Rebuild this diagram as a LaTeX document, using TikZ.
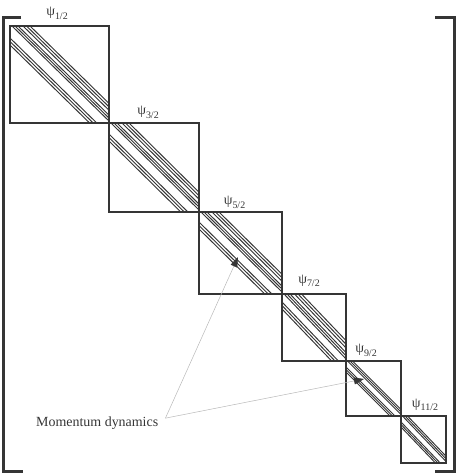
\documentclass[tikz,border=0pt]{standalone}
\usepackage{fontspec}
\setmainfont{Liberation Serif}
\usetikzlibrary{calc,arrows.meta}
\definecolor{ink}{HTML}{353535}
\definecolor{lead}{HTML}{B8B8B8}
\newcommand\mybands[4]{%
  \begin{scope}
    \clip (#1) rectangle (#2);
    \foreach \o in {#3} {\draw[band] ($(#1)+(\o,0)$) -- ($(#2)+(\o,0)$);}
    \foreach \o in {#4} {\draw[band] ($(#1)+(0,\o)$) -- ($(#2)+(0,\o)$);}
  \end{scope}}
\newcommand\psisub[1]{ψ\raisebox{-3.5bp}{\fontsize{10}{10}\selectfont #1}}
\begin{document}
\begin{tikzpicture}[x=1bp,y=-1bp,
  blk/.style={draw=ink,line width=1.6bp},
  brk/.style={draw=ink,line width=3bp,line join=miter,line cap=butt},
  band/.style={draw=ink,line width=0.95bp},
  lab/.style={text=ink,inner sep=0pt,font=\fontsize{14}{16}\selectfont},
  ldr/.style={draw=lead,line width=0.5bp,-{Triangle[length=10bp,width=7bp,color=ink,fill=ink]}}]
\useasboundingbox (0,0) rectangle (457,473);
% block corners
\coordinate (c0) at (10,26);
\coordinate (c1) at (109,123);
\coordinate (c2) at (199,212);
\coordinate (c3) at (282,294);
\coordinate (c4) at (346,361);
\coordinate (c5) at (401,416);
\coordinate (c6) at (446,463);
% bands
\mybands{c0}{c1}{2,5,8,13,16.5,20}{12,15.5,19}
\mybands{c1}{c2}{2,5,8,13,16.5,20}{11,14.5,18}
\mybands{c2}{c3}{2,5,8,13,16.5,20}{10,13.5,17}
\mybands{c3}{c4}{2,5,8,12.5,16,19.5}{8,11.5,15}
\mybands{c4}{c5}{1.5,4,6.5}{6,8.5,11}
\mybands{c5}{c6}{1.5,4,6.5}{6,8.5,11}
% blocks
\draw[blk] (c0) rectangle (c1);
\draw[blk] (c1) rectangle (c2);
\draw[blk] (c2) rectangle (c3);
\draw[blk] (c3) rectangle (c4);
\draw[blk] (c4) rectangle (c5);
\draw[blk] (c5) rectangle (c6);
% brackets
\draw[brk] (21,18) -- (3,18) -- (3,471) -- (23,471);
\draw[brk] (435,17.5) -- (454.5,17.5) -- (454.5,471) -- (435,471);
% labels
\node[lab] (p1) at (57,13.5) {\psisub{1/2}};
\node[lab] (p2) at (148,112.5) {\psisub{3/2}};
\node[lab] (p3) at (234.5,202.5) {\psisub{5/2}};
\node[lab] (p4) at (309,281) {\psisub{7/2}};
\node[lab] (p5) at (366,350.5) {\psisub{9/2}};
\node[lab] (p6) at (425,405) {\psisub{11/2}};
% momentum dynamics
\node[text=ink,font=\fontsize{14}{16}\selectfont,anchor=base west,inner sep=0pt] (mom) at (36,426) {Momentum dynamics};
\coordinate (ms) at ($(mom.east)+(7,-4.5)$);
\coordinate (a1) at (238,257);
\coordinate (a2) at (364,379);
\draw[ldr] (ms) -- (a1);
\draw[ldr] (ms) -- (a2);
\end{tikzpicture}
\end{document}
